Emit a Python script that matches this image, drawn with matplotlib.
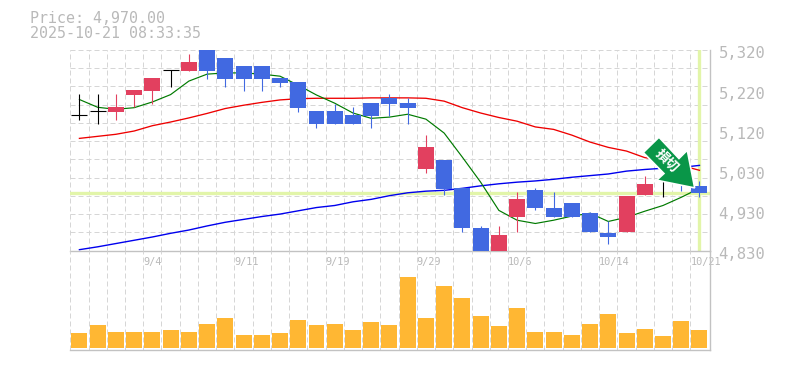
import numpy as np
import matplotlib
matplotlib.use("Agg")
import matplotlib.pyplot as plt
from matplotlib.patches import Polygon
from matplotlib.transforms import IdentityTransform, blended_transform_factory

title_lines = ["Price: 4,970.00", "2025-10-21 08:33:35"]
current_price = 4970

opens  = [5160,5170,5168,5210,5220,5270,5269,5320,5300,5281,5281,5251,5241,5170,5170,5160,5190,5202,5190,5028,5050,4982,4886,4830,4913,4977,4935,4945,4921,4872,4874,4965,5067,5034,4987]
closes = [5160,5170,5180,5222,5251,5270,5290,5269,5249,5249,5249,5239,5178,5139,5139,5139,5158,5188,5178,5082,4980,4884,4830,4867,4957,4933,4913,4913,4874,4864,4962,4992,5067,5001,4970]
highs  = [5212,5212,5212,5222,5251,5270,5310,5320,5300,5281,5281,5251,5241,5170,5188,5180,5190,5212,5202,5112,5050,4982,4891,4891,4972,4982,4972,4945,4925,4903,4962,5011,5067,5034,5001]
lows   = [5148,5139,5148,5180,5188,5229,5269,5249,5229,5220,5220,5229,5168,5129,5139,5139,5129,5158,5139,5019,4965,4874,4830,4830,4874,4928,4913,4913,4874,4845,4874,4965,4960,4975,4960]

ma_short = [5199,5180,5175,5179,5193,5211,5244,5261,5264,5264,5261,5256,5234,5210,5190,5166,5153,5156,5163,5151,5117,5058,4997,4928,4904,4896,4904,4914,4921,4901,4911,4926,4940,4960,4982]
ma_mid   = [5104,5109,5114,5122,5135,5144,5154,5165,5177,5185,5192,5198,5201,5202,5202,5202,5203,5203,5203,5202,5195,5179,5166,5155,5146,5132,5126,5112,5095,5082,5073,5057,5050,5038,5026]
ma_long  = [4832,4839,4847,4855,4863,4872,4880,4890,4899,4906,4913,4919,4927,4935,4940,4949,4955,4964,4971,4975,4977,4982,4988,4993,4997,5000,5004,5009,5013,5017,5024,5028,5031,5033,5038]
volumes  = [15,23,16,16,16,18,16,24,30,13,13,15,28,23,24,18,26,23,71,30,62,50,32,22,40,16,16,13,24,34,15,19,12,27,18]

price_tick_values = [5320,5222,5124,5026,4928,4830]
price_tick_labels = ["5,320","5,220","5,120","5,030","4,930","4,830"]
date_tick_index = [4,9,14,19,24,29,34]
date_tick_labels = ["9/4","9/11","9/19","9/29","10/6","10/14","10/21"]

W, H = 785, 370
GRAY, GRID = "#b9b9b9", "#d6d6d6"
UP, DOWN, DOJI = "#E2405F", "#4169E1", "#000000"
MONO = "DejaVu Sans Mono"
PX = 0.72

fig = plt.figure(figsize=(W/100, H/100), dpi=100, facecolor="white")
L, R = 70.3, 709.5
ax = fig.add_axes([L/W, 1-250.5/H, (R-L)/W, 200.5/H])
av = fig.add_axes([L/W, 1-350/H, (R-L)/W, 99.5/H], sharex=ax)

idx = np.arange(len(closes))
ax.set_xlim(-0.5, 34.55)
ax.set_ylim(4830, 5320)
av.set_ylim(-2, 97.5)

for a in (ax, av):
    a.set_xticks(np.arange(35) - 0.5)
    a.grid(True, axis="x", color=GRID, lw=PX, ls=(0, (5, 3)), zorder=0)
    a.tick_params(length=0, labelbottom=False, labelleft=False)
    a.set_axisbelow(True)
    for s in ("left", "top"):
        a.spines[s].set_visible(False)
    for s in ("right", "bottom"):
        a.spines[s].set_color("#c2c2c2")
        a.spines[s].set_linewidth(1.0)
    a.set_facecolor("none")

ax.set_yticks(np.linspace(4830, 5320, 12))
ax.grid(True, axis="y", color=GRID, lw=PX, ls=(0, (5, 3)), zorder=0)
av.set_yticks([])

ax.axhline(current_price, color="#e2f5a9", lw=2.4, zorder=1)
ax.axvline(idx[-1], color="#e2f5a9", lw=2.4, zorder=1, ymin=0.006)

for vals, col, w in ((ma_long, "#0000ee", 1.0), (ma_mid, "#ee0000", 0.95), (ma_short, "#007a00", 0.85)):
    ax.plot(idx, vals, color=col, lw=w, zorder=2)

o, c, h, l = map(np.array, (opens, closes, highs, lows))
colors = [UP if ci > oi else DOWN if ci < oi else DOJI for oi, ci in zip(o, c)]
ax.vlines(idx, l, h, colors=colors, lw=PX*1.1, zorder=3)
body = (c != o)
ax.bar(idx[body], np.abs(c - o)[body], bottom=np.minimum(o, c)[body], width=0.875,
       color=np.array(colors)[body], zorder=4, linewidth=0)
ax.hlines(c[~body], idx[~body] - 0.44, idx[~body] + 0.44, colors=DOJI, lw=PX*1.1, zorder=4)

av.bar(idx, volumes, width=0.875, color="#FFB733", linewidth=0, zorder=3)

tr = blended_transform_factory(ax.transAxes, ax.transData)
for v, t in zip(price_tick_values, price_tick_labels):
    ax.annotate(t, xy=(1, v), xycoords=tr, xytext=(9, -4), textcoords="offset pixels",
                ha="left", va="center", family=MONO, fontsize=11.2, color=GRAY, annotation_clip=False)
tr2 = blended_transform_factory(ax.transData, ax.transAxes)
for i, t in zip(date_tick_index, date_tick_labels):
    ax.annotate(t, xy=(i - 0.5, 0), xycoords=tr2, xytext=(0, -11), textcoords="offset pixels",
                ha="left", va="center", family=MONO, fontsize=7.4, color=GRAY, annotation_clip=False)

fig.text(30/W, 1-18.5/H, title_lines[0], family=MONO, fontsize=10.8, color=GRAY, va="center", ha="left")
fig.text(30/W, 1-33/H, title_lines[1], family=MONO, fontsize=10.8, color=GRAY, va="center", ha="left")

# signal arrow, anchored on the last candle's close
anchor = ax.transData.transform((idx[-1], current_price))
arrow_shape = np.array([(-40.5,56),(-56.2,40.7),(-35.5,19.7),(-42.8,13),(-4.8,5.3),(-12.2,43),(-20.5,34.7)])
ax.add_patch(Polygon(anchor + arrow_shape, closed=True, transform=IdentityTransform(), facecolor="#099648",
                     edgecolor="white", lw=1.2, zorder=6, clip_on=False))
ax.annotate("損切", xy=(idx[-1], current_price), xycoords="data", xytext=(-33, 32.5), textcoords="offset pixels",
            ha="center", va="center", rotation=-45, rotation_mode="anchor", family=["Noto Sans CJK JP", "DejaVu Sans"],
            fontsize=9.6, fontweight="bold", color="white", zorder=7, annotation_clip=False)

fig.savefig("out.png", dpi=100, facecolor="white")
